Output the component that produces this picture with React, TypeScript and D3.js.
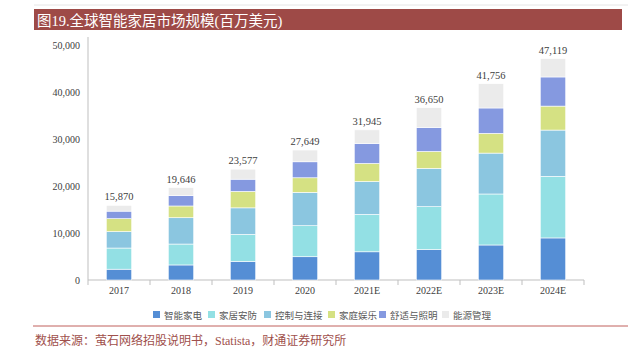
import React from 'react';
import * as d3 from 'd3';

const years = ['2017', '2018', '2019', '2020', '2021E', '2022E', '2023E', '2024E'];
const totals = [15870, 19646, 23577, 27649, 31945, 36650, 41756, 47119];
const seriesNames = ['智能家电', '家居安防', '控制与连接', '家庭娱乐', '舒适与照明', '能源管理'];
const appliances = [2300, 3200, 3950, 4950, 6000, 6500, 7450, 8950];
const security = [4500, 4450, 5750, 6600, 7950, 9100, 10850, 13100];
const control = [3500, 5600, 5650, 7100, 7000, 8150, 8700, 9850];
const entertainment = [2750, 2500, 3500, 3100, 3850, 3600, 4200, 5100];
const lighting = [1600, 2200, 2600, 3400, 4250, 5100, 5400, 6200];
// energy = whatever is left to reach the total
const energy = totals.map((t, i) =>
    t - appliances[i] - security[i] - control[i] - entertainment[i] - lighting[i]);
const yTicks = [0, 10000, 20000, 30000, 40000, 50000];
const colors = ['#558ed5', '#93e0e4', '#8bc6e0', '#d5e183', '#8599e0', '#ebebeb'];

const serif = '"Liberation Serif", "Times New Roman", "Noto Sans CJK SC", serif';
const cjk = '"Liberation Serif", "Noto Sans CJK SC", serif';

export default function App() {
    const x = d3.scaleBand()
        .domain(years)
        .range([88, 584])
        .paddingInner(0.59)
        .paddingOuter(0.295);
    const y = d3.scaleLinear().domain([0, 50000]).range([280, 45]);

    const table = years.map((yr, i) => ({
        year: yr,
        s0: appliances[i], s1: security[i], s2: control[i],
        s3: entertainment[i], s4: lighting[i], s5: energy[i],
    }));
    const stack = d3.stack<any>().keys(['s0', 's1', 's2', 's3', 's4', 's5']);
    const layers = stack(table);

    const band = (584 - 88) / years.length;
    const legendX = [153, 208, 264, 328, 379, 442];

    return (
        <svg width={628} height={350} style={{ position: 'absolute', left: 0, top: 0 }}>
            <rect x={0} y={0} width={628} height={350} fill="#fff" />
            <line x1={34} x2={628} y1={5} y2={5} stroke="#e6e6e6" />
            <rect x={34} y={9} width={588} height={21} fill="#9e4a47" />
            <text x={37} y={25.5} fill="#fff" fontSize={14.5} fontFamily={cjk}>图19.全球智能家居市场规模(百万美元)</text>

            <line x1={88} x2={88} y1={37} y2={280} stroke="#bfbfbf" />
            <line x1={88} x2={584} y1={280} y2={280} stroke="#bfbfbf" />
            {d3.range(years.length + 1).map(k => (
                <line key={k} x1={88 + k * band} x2={88 + k * band} y1={280} y2={285} stroke="#bfbfbf" />
            ))}
            {yTicks.map(t => (
                <text key={t} x={80} y={y(t) + 3.5} textAnchor="end" fontSize={10} fill="#404040" fontFamily={serif}>
                    {d3.format(',')(t)}
                </text>
            ))}
            {years.map(yr => (
                <text key={yr} x={x(yr)! + x.bandwidth() / 2} y={294} textAnchor="middle" fontSize={10} fill="#404040" fontFamily={serif}>
                    {yr}
                </text>
            ))}

            {layers.map((layer, li) => (
                <g key={li} fill={colors[li]}>
                    {layer.map((d, i) => (
                        <rect key={i} x={x(years[i])} y={y(d[1])} width={x.bandwidth()}
                            height={y(d[0]) - y(d[1])} stroke="#fff" strokeWidth={0.6} />
                    ))}
                </g>
            ))}
            {years.map((yr, i) => (
                <text key={yr} x={x(yr)! + x.bandwidth() / 2} y={y(totals[i]) - 5} textAnchor="middle" fontSize={10.5} fill="#404040" fontFamily={serif}>
                    {d3.format(',')(totals[i])}
                </text>
            ))}

            {seriesNames.map((name, i) => (
                <g key={name}>
                    <rect x={legendX[i]} y={311} width={7} height={7} fill={colors[i]} />
                    <text x={legendX[i] + 11} y={318.5} fontSize={9.5} fill="#595959" fontFamily={cjk}>{name}</text>
                </g>
            ))}

            <line x1={33} x2={628} y1={326} y2={326} stroke="#c0605c" strokeWidth={1} />
            <text x={35} y={345} fontSize={12} fill="#a0504c" fontFamily={cjk}>
                数据来源：萤石网络招股说明书，Statista，财通证券研究所
            </text>
        </svg>
    );
}
